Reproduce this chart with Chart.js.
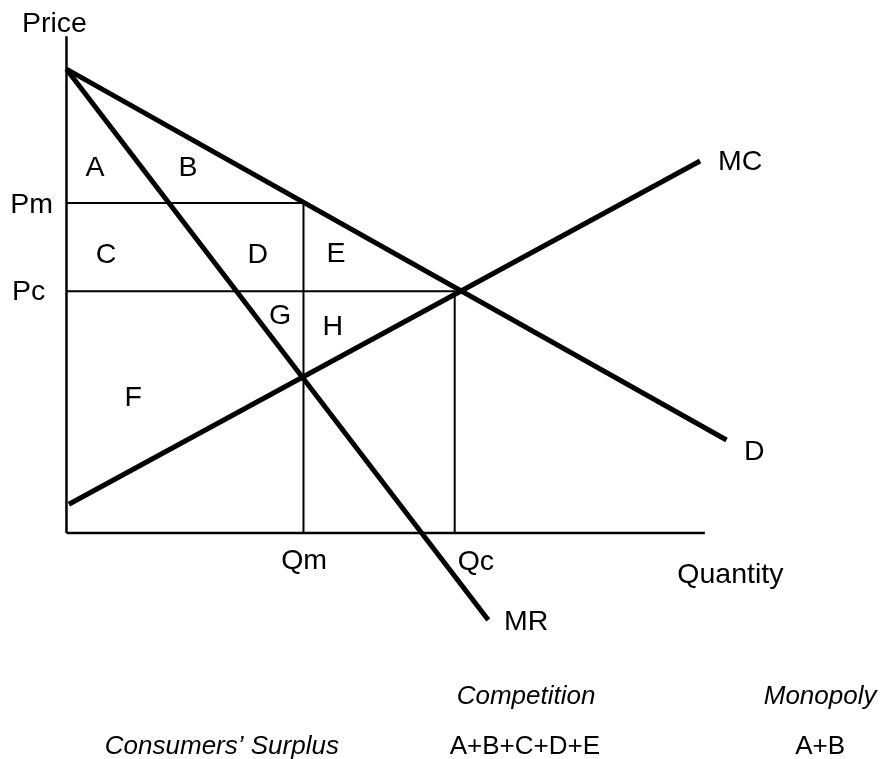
<!DOCTYPE html>
<html>
<head>
<meta charset="utf-8">
<script src="https://cdn.jsdelivr.net/npm/chart.js@4"></script>
<style>
  body { margin: 0; background: #fff; }
  #wrap { width: 881px; height: 759px; }
</style>
</head>
<body>
<div id="wrap"><canvas id="grafico"></canvas></div>
<script>
// Data (quantity units on x, price units on y, origin at the axes corner)
const precoMax = 7.73;
const Pm = 5.5;
const Pc = 4.03;
const Qm = 3.95;
const Qc = 6.47;

const demandaQ = [0, 11.0];
const demandaP = [precoMax, 1.55];
const receitaQ = [0, 7.03];          // MR
const receitaP = [precoMax, -1.45];
const custoQ = [0.04, 10.56];        // MC
const custoP = [0.48, 6.2];

const eixoY = [[0, 0], [0, 8.28]];
const eixoX = [[0, 0], [10.64, 0]];

// Text labels: [text, x, y, align, italic, size]
const rotulos = [
  ['Price', -0.2, 8.48, 'center', false, 28.5],
  ['Pm', -0.225, 5.47, 'right', false, 28.5],
  ['Pc', -0.91, 4.02, 'left', false, 28.5],
  ['A', 0.475, 6.08, 'center', false, 28.5],
  ['B', 2.025, 6.08, 'center', false, 28.5],
  ['C', 0.66, 4.63, 'center', false, 28.5],
  ['D', 3.19, 4.63, 'center', false, 28.5],
  ['E', 4.49, 4.65, 'center', false, 28.5],
  ['G', 3.56, 3.62, 'center', false, 28.5],
  ['H', 4.44, 3.43, 'center', false, 28.5],
  ['F', 1.11, 2.25, 'center', false, 28.5],
  ['MC', 10.86, 6.18, 'left', false, 28.5],
  ['D', 11.29, 1.35, 'left', false, 28.5],
  ['Qm', 3.96, -0.47, 'center', false, 28.5],
  ['Qc', 6.52, -0.48, 'left', false, 28.5],
  ['Quantity', 10.18, -0.7, 'left', false, 28.5],
  ['MR', 7.29, -1.48, 'left', false, 28.5],
  ['Competition', 7.66, -2.73, 'center', true, 26],
  ['Monopoly', 12.56, -2.73, 'center', true, 26],
  ['Consumers\u2019 Surplus', 2.59, -3.57, 'center', true, 26],
  ['A+B+C+D+E', 7.64, -3.57, 'center', false, 26],
  ['A+B', 12.56, -3.57, 'center', false, 26]
];

function pares(xs, ys) {
  return xs.map((x, i) => ({ x: x, y: ys[i] }));
}

function linha(pontos, largura) {
  return {
    data: pontos,
    showLine: true,
    borderColor: '#000',
    borderWidth: largura,
    pointRadius: 0,
    fill: false,
    clip: false
  };
}

const pluginRotulos = {
  id: 'rotulos',
  afterDatasetsDraw(chart) {
    const ctx = chart.ctx;
    const sx = chart.scales.x;
    const sy = chart.scales.y;
    ctx.save();
    ctx.fillStyle = '#000';
    ctx.textBaseline = 'middle';
    rotulos.forEach(r => {
      ctx.font = (r[4] ? 'italic ' : '') + r[5] + 'px "Liberation Sans", Arial, sans-serif';
      ctx.textAlign = r[3];
      ctx.fillText(r[0], sx.getPixelForValue(r[1]), sy.getPixelForValue(r[2]));
    });
    ctx.restore();
  }
};

const ctx = document.getElementById('grafico').getContext('2d');
new Chart(ctx, {
  type: 'scatter',
  data: {
    datasets: [
      linha(eixoY.map(p => ({ x: p[0], y: p[1] })), 2.5),
      linha(eixoX.map(p => ({ x: p[0], y: p[1] })), 2.5),
      // Pm and Pc guide lines
      linha([{ x: 0, y: Pm }, { x: Qm, y: Pm }, { x: Qm, y: 0 }], 2),
      linha([{ x: 0, y: Pc }, { x: Qc, y: Pc }, { x: Qc, y: 0 }], 2),
      linha(pares(demandaQ, demandaP), 5),
      linha(pares(receitaQ, receitaP), 5),
      linha(pares(custoQ, custoP), 5)
    ]
  },
  options: {
    responsive: true,
    maintainAspectRatio: false,
    animation: false,
    layout: { padding: 0 },
    plugins: {
      legend: { display: false },
      tooltip: { enabled: false },
      title: { display: false }
    },
    scales: {
      x: { type: 'linear', min: -1.108, max: 13.575, display: false },
      y: { type: 'linear', min: -3.767, max: 8.883, display: false }
    }
  },
  plugins: [pluginRotulos]
});
</script>
</body>
</html>
